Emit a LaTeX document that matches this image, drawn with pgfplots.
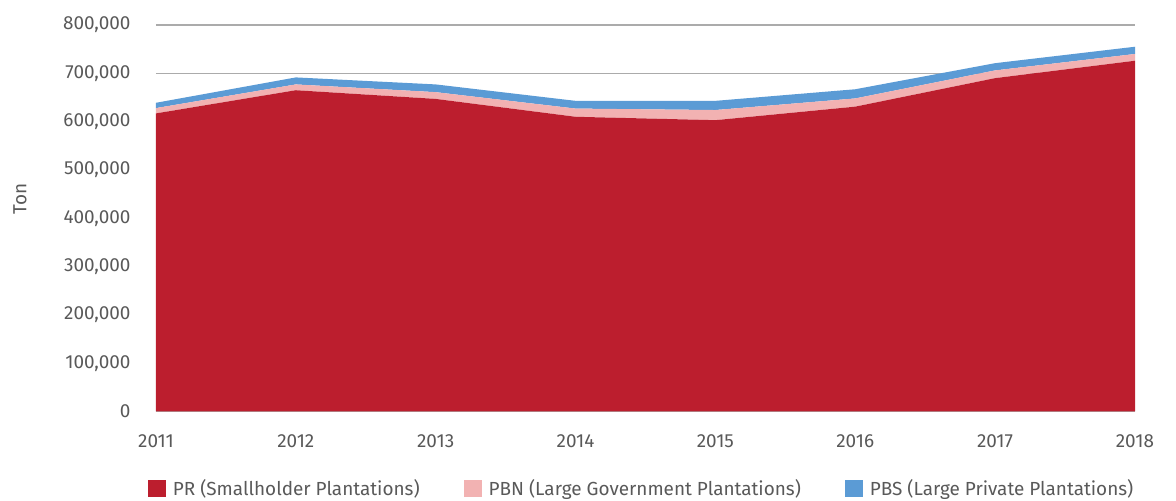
\documentclass[border=0pt]{standalone}
\usepackage{fontspec}
\setmainfont{Fira Sans}
\usepackage{pgfplots}
\pgfplotsset{compat=1.18}
\usetikzlibrary{calc}

\definecolor{prred}{RGB}{188,30,46}
\definecolor{pbnpink}{RGB}{242,178,178}
\definecolor{pbsblue}{RGB}{91,155,213}
\definecolor{gridgray}{RGB}{171,171,171}
\definecolor{txtgray}{RGB}{89,89,89}

\begin{document}
\begin{tikzpicture}
\begin{axis}[
    scale only axis,
    width=979bp, height=386.5bp,
    stack plots=y,
    xmin=2011, xmax=2018,
    ymin=0, ymax=800000,
    xtick={2011,...,2018},
    ytick={0,100000,...,800000},
    xticklabel style={/pgf/number format/1000 sep={}},
    yticklabel style={/pgf/number format/fixed,/pgf/number format/1000 sep={,}},
    /pgf/number format/assume math mode=true,
    scaled y ticks=false,
    ymajorgrids,
    grid style={gridgray, line width=1.2bp},
    axis line style={draw=none},
    major tick length=0pt,
    tick label style={font=\fontsize{19}{22}\selectfont, text=txtgray},
    xticklabel style={yshift=-20bp},
    yticklabel style={xshift=-22bp},
    ylabel={Ton},
    every axis y label/.append style={at={(axis description cs:-0.139,0.55)},
        anchor=center, font=\fontsize{19}{22}\selectfont, text=txtgray},
    legend columns=3,
    legend style={at={(axis description cs:0.496,-0.198)}, anchor=center,
        draw=none, fill=none, font=\fontsize{19}{22}\selectfont, text=txtgray,
        /tikz/every odd column/.append style={column sep=5bp},
        /tikz/every even column/.append style={column sep=42bp}},
    legend image code/.code={\fill[#1] (0bp,-8.5bp) rectangle (18bp,8.5bp);},
]
\addplot[fill=prred, draw=none] coordinates {
    (2011,617000) (2012,665000) (2013,647000) (2014,610000)
    (2015,603000) (2016,631000) (2017,690000) (2018,726000)
} \closedcycle;
\addplot[fill=pbnpink, draw=none] coordinates {
    (2011,11000) (2012,12000) (2013,14000) (2014,17000)
    (2015,21000) (2016,17000) (2017,16000) (2018,14000)
} \closedcycle;
\addplot[fill=pbsblue, draw=none] coordinates {
    (2011,11000) (2012,14500) (2013,16000) (2014,16000)
    (2015,19000) (2016,19000) (2017,15000) (2018,15000)
} \closedcycle;
\legend{PR (Smallholder Plantations), PBN (Large Government Plantations), PBS (Large Private Plantations)}
\end{axis}
\pgfresetboundingbox
\path[use as bounding box] ([xshift=-156bp,yshift=-89.5bp]current axis.south west)
    rectangle ([xshift=41bp,yshift=25bp]current axis.north east);
\end{tikzpicture}
\end{document}
